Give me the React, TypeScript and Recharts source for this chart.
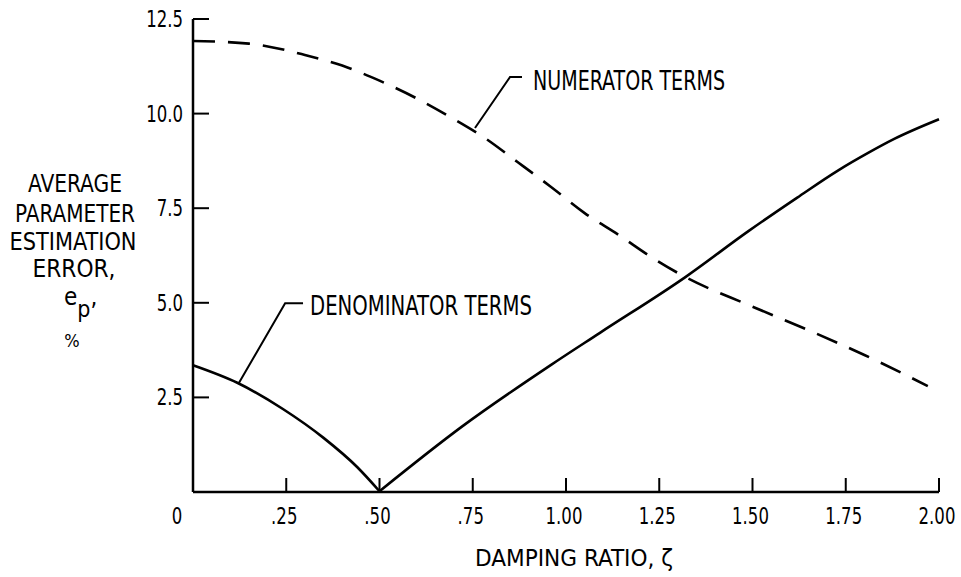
import { LineChart, Line, XAxis, YAxis } from 'recharts';

const xTicks = [0, 0.25, 0.5, 0.75, 1, 1.25, 1.5, 1.75, 2];
const xTickLabels = ['0', '.25', '.50', '.75', '1.00', '1.25', '1.50', '1.75', '2.00'];
const yTicks = [2.5, 5, 7.5, 10, 12.5];
const yTickLabels = ['2.5', '5.0', '7.5', '10.0', '12.5'];

const numerator = [
    { x: 0, y: 11.92 }, { x: 0.15, y: 11.85 }, { x: 0.3, y: 11.55 }, { x: 0.4, y: 11.27 },
    { x: 0.5, y: 10.87 }, { x: 0.6, y: 10.4 }, { x: 0.7, y: 9.85 }, { x: 0.78, y: 9.37 },
    { x: 0.87, y: 8.72 }, { x: 0.96, y: 8.06 }, { x: 1.05, y: 7.37 }, { x: 1.14, y: 6.8 },
    { x: 1.23, y: 6.2 }, { x: 1.32, y: 5.68 }, { x: 1.49, y: 4.94 }, { x: 1.63, y: 4.36 },
    { x: 1.8, y: 3.62 }, { x: 1.97, y: 2.8 },
];

const denominatorLeft = [
    { x: 0, y: 3.35 }, { x: 0.12, y: 2.88 }, { x: 0.24, y: 2.2 }, { x: 0.35, y: 1.43 },
    { x: 0.44, y: 0.66 }, { x: 0.5, y: 0.02 },
];

const denominatorRight = [
    { x: 0.5, y: 0.02 }, { x: 0.72, y: 1.72 }, { x: 0.96, y: 3.36 }, { x: 1.09, y: 4.2 },
    { x: 1.32, y: 5.68 }, { x: 1.49, y: 6.9 }, { x: 1.62, y: 7.78 }, { x: 1.73, y: 8.5 },
    { x: 1.81, y: 8.96 }, { x: 1.88, y: 9.33 }, { x: 2.0, y: 9.85 },
];

// leader lines from the curve labels
const numeratorLeader = [{ x: 0.756, y: 9.62 }, { x: 0.85, y: 10.97 }, { x: 0.882, y: 10.97 }];
const denominatorLeader = [{ x: 0.123, y: 2.88 }, { x: 0.247, y: 4.99 }, { x: 0.295, y: 4.99 }];

const FONT = "'DejaVu Sans Condensed', 'Liberation Sans Narrow', 'DejaVu Sans', sans-serif";

const XTick = (props: any) => {
    const { x, y, payload, index } = props;
    const label = xTickLabels[index] ?? String(payload.value);
    const dx = payload.value === 0 ? -16 : -2;
    return (
        <g>
            {payload.value !== 0 && (
                <line x1={x} y1={y} x2={x} y2={y - 14} stroke="#000" strokeWidth={2} />
            )}
            <text
                transform={`translate(${x + dx},${y + 32}) scale(0.8,1)`}
                textAnchor="middle"
                fontFamily={FONT}
                fontSize={23}
                fill="#000"
            >
                {label}
            </text>
        </g>
    );
};

const YTick = (props: any) => {
    const { x, y, payload, index } = props;
    const label = yTickLabels[index] ?? String(payload.value);
    return (
        <g>
            <line x1={x} y1={y} x2={x + 16} y2={y} stroke="#000" strokeWidth={2} />
            <text
                transform={`translate(${x - 10},${y + 8}) scale(0.8,1)`}
                textAnchor="end"
                fontFamily={FONT}
                fontSize={23}
                fill="#000"
            >
                {label}
            </text>
        </g>
    );
};

export default function App() {
    const txt = { fontFamily: FONT, fill: '#000' } as const;
    return (
        <div style={{ position: 'absolute', left: 0, top: 0, width: 961, height: 577, background: '#fff' }}>
            <LineChart width={961} height={577} margin={{ top: 19, right: 22, left: 133, bottom: 55 }}>
                <XAxis
                    dataKey="x"
                    type="number"
                    domain={[0, 2]}
                    ticks={xTicks}
                    tick={<XTick />}
                    tickLine={false}
                    tickSize={0}
                    tickMargin={0}
                    height={30}
                    axisLine={{ stroke: '#000', strokeWidth: 2.5 }}
                    interval={0}
                />
                <YAxis
                    type="number"
                    domain={[0, 12.5]}
                    ticks={yTicks}
                    tick={<YTick />}
                    tickLine={false}
                    tickSize={0}
                    tickMargin={0}
                    width={60}
                    axisLine={{ stroke: '#000', strokeWidth: 2.5 }}
                    interval={0}
                />
                <Line data={numerator} dataKey="y" type="monotone" stroke="#000" strokeWidth={2.6}
                    strokeDasharray="22 13" dot={false} isAnimationActive={false} />
                <Line data={denominatorLeft} dataKey="y" type="monotone" stroke="#000" strokeWidth={2.6}
                    dot={false} isAnimationActive={false} />
                <Line data={denominatorRight} dataKey="y" type="monotone" stroke="#000" strokeWidth={2.6}
                    dot={false} isAnimationActive={false} />
                <Line data={numeratorLeader} dataKey="y" type="linear" stroke="#000" strokeWidth={2}
                    dot={false} isAnimationActive={false} />
                <Line data={denominatorLeader} dataKey="y" type="linear" stroke="#000" strokeWidth={2}
                    dot={false} isAnimationActive={false} />
            </LineChart>
            <svg width={961} height={577} style={{ position: 'absolute', left: 0, top: 0, pointerEvents: 'none' }}>
                <text x={533} y={90} fontSize={26} textLength={192} lengthAdjust="spacingAndGlyphs" {...txt}>NUMERATOR TERMS</text>
                <text x={310} y={315} fontSize={26} textLength={222} lengthAdjust="spacingAndGlyphs" {...txt}>DENOMINATOR TERMS</text>
                <text x={75} y={192} fontSize={24} textAnchor="middle" textLength={94} lengthAdjust="spacingAndGlyphs" {...txt}>AVERAGE</text>
                <text x={75} y={222} fontSize={25} textAnchor="middle" textLength={120} lengthAdjust="spacingAndGlyphs" {...txt}>PARAMETER</text>
                <text x={73} y={250} fontSize={25} textAnchor="middle" textLength={127} lengthAdjust="spacingAndGlyphs" {...txt}>ESTIMATION</text>
                <text x={74} y={277} fontSize={25} textAnchor="middle" textLength={83} lengthAdjust="spacingAndGlyphs" {...txt}>ERROR,</text>
                <text x={64} y={305} fontSize={24} {...txt}>
                    e<tspan dy={12} fontSize={23}>p</tspan><tspan dy={-12}>,</tspan>
                </text>
                <text x={72} y={347} fontSize={18} textAnchor="middle" {...txt}>%</text>
                <text x={574} y={566} fontSize={23} textAnchor="middle" textLength={198} lengthAdjust="spacingAndGlyphs" {...txt}>DAMPING RATIO, ζ</text>
            </svg>
        </div>
    );
}
